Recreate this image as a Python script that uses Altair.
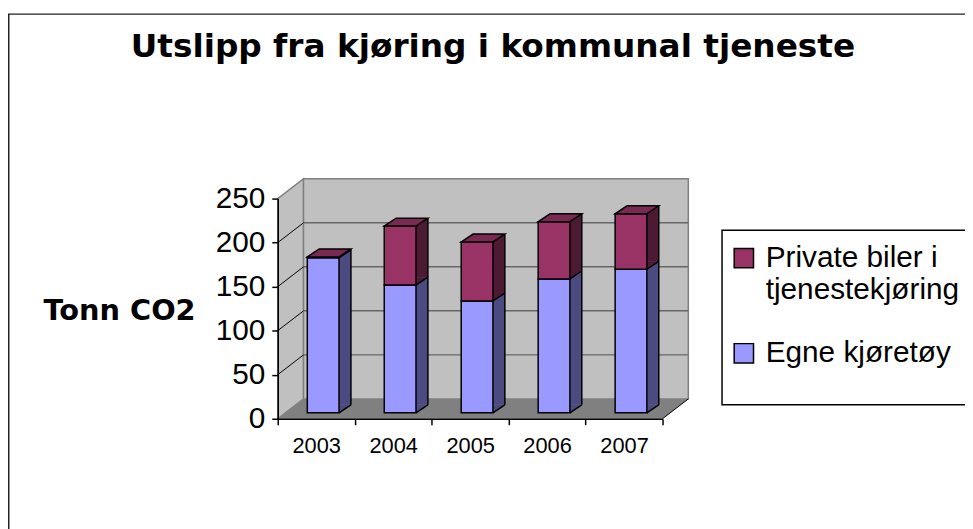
import altair as alt
import pandas as pd

# ---------------- data ----------------
years = ["2003", "2004", "2005", "2006", "2007"]
egne = [176, 145, 127, 152, 163]          # Egne kjøretøy
private = [1, 67, 67, 65, 63]             # Private biler i tjenestekjøring
series_names = ["Private biler i tjenestekjøring", "Egne kjøretøy"]
front_colors = ["#993366", "#9999FF"]
y_ticks = [0, 50, 100, 150, 200, 250]
title_text = "Utslipp fra kjøring i kommunal tjeneste"
y_title = "Tonn CO2"

rows = []
for i, yr in enumerate(years):
    rows.append({"year": yr, "series": "Egne kjøretøy", "value": egne[i], "ord": 0})
    rows.append({"year": yr, "series": "Private biler i tjenestekjøring", "value": private[i], "ord": 1})
df = pd.DataFrame(rows)
inner_ticks = pd.DataFrame({"tick": [t for t in y_ticks if 0 < t < 250]})
one = pd.DataFrame({"k": [0]})

# ---------------- styling ----------------
W, H = 388, 222
egne_side, priv_side, priv_top = "#4B4B82", "#4D1A33", "#7A2952"
wall, floor_c, edge = "#C0C0C0", "#808080", "#808080"

xscale = alt.Scale(domain=years, paddingInner=0, paddingOuter=0)
xax = alt.Axis(title=None, labelAngle=0, tickBand="extent", labelFont="Liberation Sans",
               labelFontSize=22, labelColor="black", labelPadding=11, tickSize=6,
               tickColor="black", tickWidth=1.5, domainColor="black", domainWidth=1.5,
               grid=False, zindex=2)
X = alt.X("year:N", scale=xscale, axis=xax, sort=years)

yscale = alt.Scale(domain=[0, 250], nice=False, zero=True)
yax = alt.Axis(values=y_ticks, title=y_title, titleAngle=0, titleX=-160, titleY=113,
               titleAlign="center", titleBaseline="middle", titleFont="DejaVu Sans",
               titleFontSize=29, titleFontWeight="bold", titleColor="black",
               labelFont="Liberation Sans", labelFontSize=30, labelColor="black",
               labelPadding=7, tickSize=6, tickColor="black", tickWidth=1.5,
               domainColor="black", domainWidth=1.5, grid=False, zindex=2)


def Y(field):
    return alt.Y(field + ":Q", scale=yscale, axis=yax)


side_fill = alt.condition(alt.datum.ord == 0, alt.value(egne_side), alt.value(priv_side))

# ---------------- decorations (3D box) ----------------
border = alt.Chart(one).mark_rect(fillOpacity=0, stroke="#222222", strokeWidth=1.5).encode(
    x=alt.value(-271.25), y=alt.value(-186), x2=alt.value(900), y2=alt.value(500))

side_wall = alt.Chart(one).mark_point(
    shape="M0,0 L0,-222 L26,-242 L26,-20 Z", size=4, filled=True, fill=wall,
    stroke=edge, strokeWidth=1.5, opacity=1).encode(x=alt.value(0), y=alt.datum(0))

back_wall = alt.Chart(one).mark_rect(
    fill=wall, stroke=edge, strokeWidth=1.5, xOffset=26, x2Offset=26,
    yOffset=-20, y2Offset=-20).encode(
    x=alt.value(0), x2=alt.value(W), y=alt.datum(0), y2=alt.datum(250))

grid = alt.Chart(inner_ticks).mark_rule(
    color="#666666", strokeWidth=1.5, xOffset=26, x2Offset=26, yOffset=-20).encode(
    x=alt.value(0), x2=alt.value(W), y=Y("tick"))

diag = alt.Chart(inner_ticks).mark_rule(color="black", strokeWidth=1, x2Offset=26, y2Offset=-20).encode(
    x=alt.value(0), x2=alt.value(0), y=Y("tick"), y2=alt.Y2("tick:Q"))

floor = alt.Chart(one).mark_point(
    shape="M0,0 L388,0 L414,-20 L26,-20 Z", size=4, filled=True, fill=floor_c,
    strokeOpacity=0, opacity=1).encode(x=alt.value(0), y=alt.datum(0))

floor_edge = alt.Chart(one).mark_rule(color="black", strokeWidth=1, x2Offset=26, y2Offset=-20).encode(
    x=alt.value(W), x2=alt.value(W), y=alt.datum(0), y2=alt.datum(0))

# ---------------- bars ----------------
base = alt.Chart(df).transform_stack(
    stack="value", groupby=["year"], sort=[alt.SortField("ord", order="ascending")],
    as_=["v0", "v1"])

side = base.mark_bar(width=12, xOffset=29, yOffset=-14, y2Offset=-14, strokeOpacity=0).encode(
    x=X, y=Y("v1"), y2="v0:Q", fill=side_fill)

side_tri = base.mark_point(shape="M23,-14 L23,-6 L35,-14 Z", size=4, filled=True,
                           strokeOpacity=0, opacity=1).encode(x=X, y=Y("v0"), fill=side_fill)

right_edge = base.transform_filter(alt.datum.ord == 1).mark_rule(
    xOffset=35, yOffset=-14, y2Offset=-14, color="black", strokeWidth=1.5).encode(
    x=X, y=Y("v1"), y2=alt.datum(0))

slant = base.mark_point(shape="M23,-6 L35,-14", size=4, filled=False, stroke="black",
                        strokeWidth=1.5, opacity=1).encode(x=X, y=Y("v0"))

legend = alt.Legend(
    title=" ", titleOrient="bottom", titleFontSize=14, titlePadding=10,
    orient="none", legendX=448, legendY=32,
    labelExpr="indexof(datum.label, 'Private') == 0 ? ['Private biler i', 'tjenestekjøring'] : datum.label",
    labelFont="Liberation Sans", labelFontSize=30, labelColor="black", labelLimit=600,
    labelOffset=7, symbolOffset=-6, symbolType="square", symbolSize=380,
    symbolStrokeColor="black", symbolStrokeWidth=1.5, symbolOpacity=1, padding=13,
    rowPadding=34, strokeColor="black", fillColor="white")

front = base.mark_bar(width=32, xOffset=7, yOffset=-6, y2Offset=-6, stroke="black",
                      strokeWidth=1.5).encode(
    x=X, y=Y("v1"), y2="v0:Q",
    fill=alt.Fill("series:N", scale=alt.Scale(domain=series_names, range=front_colors),
                  legend=legend))

top = base.transform_filter(alt.datum.ord == 1).mark_point(
    shape="M-9,-6 L23,-6 L35,-14 L3,-14 Z", size=4, filled=True, fill=priv_top,
    stroke="black", strokeWidth=1.5, opacity=1).encode(x=X, y=Y("v1"))

chart = alt.layer(
    border, side_wall, back_wall, grid, diag, floor, floor_edge,
    side, side_tri, right_edge, slant, front, top
).properties(
    width=W, height=H,
    padding={"left": 272, "top": 190, "right": 305, "bottom": 109},
    autosize=alt.AutoSizeParams(type="none"),
    background="white",
    title=alt.TitleParams(title_text, font="DejaVu Sans", fontSize=33, fontWeight="bold",
                          color="black", anchor="middle", frame="group", dx=23,
                          offset=0, dy=77, baseline="alphabetic"),
).configure_view(stroke=None).configure_legend(strokeWidth=1.5)

chart.save("out.html", embed_options={"renderer": "svg", "actions": False})
